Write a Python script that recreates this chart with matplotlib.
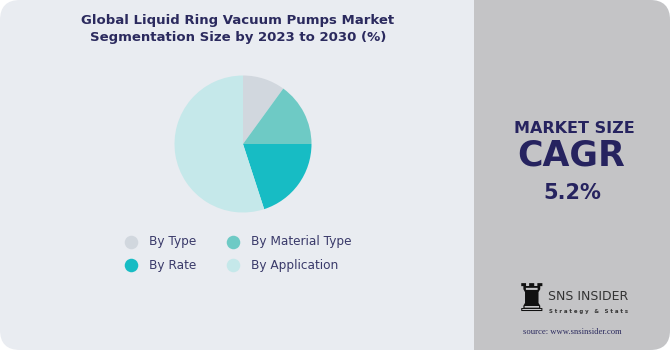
import matplotlib
matplotlib.use("Agg")
import matplotlib.pyplot as plt
from matplotlib.patches import FancyBboxPatch, Rectangle

categories = ["By Type", "By Material Type", "By Rate", "By Application"]
values = [10, 15, 20, 55]
colors = ["#d1d7de", "#6ecac5", "#17bcc4", "#c5e8ea"]
title_lines = ["Global Liquid Ring Vacuum Pumps Market",
               "Segmentation Size by 2023 to 2030 (%)"]
cagr_value = "5.2%"

W, H = 670, 350
fig = plt.figure(figsize=(W / 100, H / 100), dpi=100)
fig.patch.set_facecolor("white")

bg = fig.add_axes([0, 0, 1, 1])
bg.set_xlim(0, W)
bg.set_ylim(H, 0)
bg.axis("off")

card = FancyBboxPatch((0, 0), W, H, boxstyle="round,pad=0,rounding_size=20",
                      fc="#e9ecf1", ec="none", zorder=0)
bg.add_patch(card)
right = Rectangle((474, 0), W - 474, H, fc="#c4c4c6", ec="none", zorder=1)
bg.add_patch(right)
right.set_clip_path(card)

navy = "#2b2a5e"
font = "DejaVu Sans"
bg.text(238, 24, title_lines[0], ha="center", va="baseline", fontsize=9.5,
        fontweight="bold", color=navy, family=font, zorder=3)
bg.text(238, 41, title_lines[1], ha="center", va="baseline", fontsize=9.5,
        fontweight="bold", color=navy, family=font, zorder=3)

# legend
leg_pos = [(131, 242), (233, 242), (131, 265), (233, 265)]
for (x, y), lab, c in zip(leg_pos, categories, colors):
    bg.scatter([x], [y], s=95, color=c, zorder=3, linewidths=0)
    bg.text(x + 18, y, lab, ha="left", va="center", fontsize=8.7,
            color="#3a3a6a", family=font, zorder=3)

# right panel
bg.text(574, 133, "MARKET SIZE", ha="center", va="baseline", fontsize=11.5,
        fontweight="heavy", color="#26235f", family=font, zorder=3)
bg.text(571, 166, "CAGR", ha="center", va="baseline", fontsize=25,
        fontweight="heavy", color="#26235f", family=font, zorder=3)
bg.text(572, 199, cagr_value, ha="center", va="baseline", fontsize=15,
        fontweight="bold", color="#26235f", family=font, zorder=3)

# logo
bg.text(532, 301, "\u265c", ha="center", va="center", fontsize=27,
        color="#111111", family="DejaVu Sans", zorder=3)
bg.text(548, 296, "SNS INSIDER", ha="left", va="center", fontsize=9,
        color="#333333", family="DejaVu Sans", zorder=3)
bg.text(549, 311, "S t r a t e g y   &   S t a t s", ha="left", va="center",
        fontsize=3.9, fontweight="bold", color="#333333", family="DejaVu Sans", zorder=3)
bg.text(572, 332, "source: www.snsinsider.com", ha="center", va="center",
        fontsize=6.2, color="#2b2a5e", family="Liberation Serif", zorder=3)

# pie
cx, cy, r = 243, 144, 68.5
pax = fig.add_axes([(cx - r) / W, (H - cy - r) / H, 2 * r / W, 2 * r / H])
pax.pie(values, colors=colors, startangle=90, counterclock=False,
        wedgeprops=dict(linewidth=0))
pax.set_xlim(-1, 1)
pax.set_ylim(-1, 1)
pax.set_aspect("equal")
pax.axis("off")

fig.savefig("out.png", dpi=100, facecolor="white")
